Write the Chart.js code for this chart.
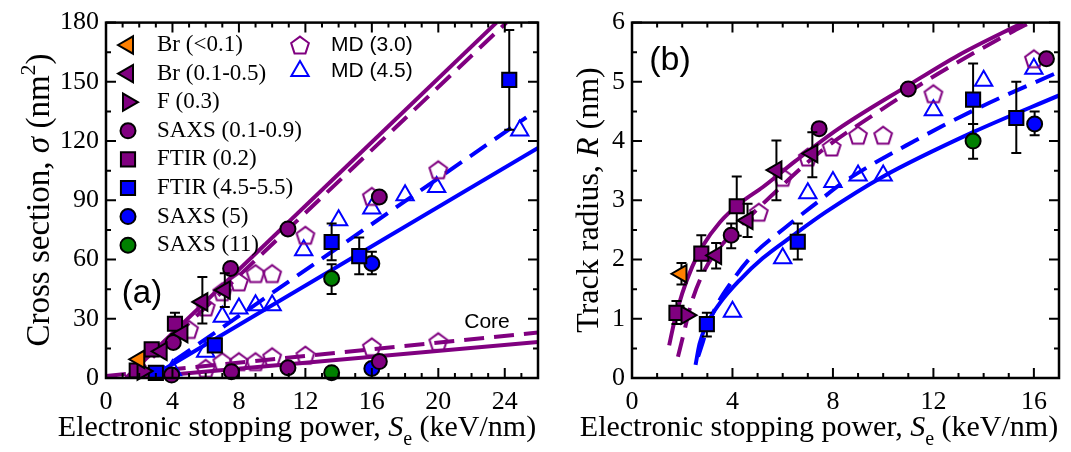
<!DOCTYPE html>
<html>
<head>
<meta charset="utf-8">
<script src="https://cdn.jsdelivr.net/npm/chart.js@4.4.0/dist/chart.umd.min.js"></script>
<style>
body { margin: 0; background: #fff; }
#wa { position: absolute; left: 0; top: 0; width: 560px; height: 452px; }
#wb { position: absolute; left: 560px; top: 0; width: 511px; height: 452px; }
</style>
</head>
<body>
<div id="wa"><canvas id="ca" width="560" height="452"></canvas></div>
<div id="wb"><canvas id="cb" width="511" height="452"></canvas></div>
<script>
// rows: [Se, value, errLow, errHigh]  (error limits optional)

// panel (a): cross section sigma (nm^2)
var aBrLow   = [[2.0, 9.5]];
var aBrMid   = [[3.35, 13.5], [4.6, 22.5], [5.8, 38.5, 27.6, 51.2], [7.15, 44.5, 36, 53]];
var aF       = [[2.2, 3.5]];
var aSaxsLow = [[4.05, 18], [7.5, 55.5], [10.95, 75.5], [16.45, 91.7, 89.6, 93.5],
                [3.95, 1.5, 0.4, 2.6], [7.55, 3.2, 2, 4.4], [10.95, 5.2, 4, 6.4], [16.45, 8.3, 7, 9.6]];
var aFtirLow = [[1.85, 3.8, 2.6, 5.2], [2.75, 14.5, 11.5, 17.5], [4.15, 27.5, 22, 33]];
var aFtirHi  = [[3.0, 2.6, 1.5, 3.8], [6.55, 16.5], [13.58, 68.9, 59.7, 78.2], [15.24, 61.7, 52.6, 71.1], [24.27, 151, 125.7, 176.3]];
var aSaxs5   = [[16.0, 58, 52.6, 63.9], [16.0, 4.8, 3.6, 6]];
var aSaxs11  = [[13.58, 50.4, 42.5, 57.6], [13.58, 2.7, 1.5, 3.9]];
var aMd30    = [[5, 24.6], [6, 36], [7, 43.7], [8, 48.7], [9, 52.9], [10, 52.9], [12, 72.3], [16, 92], [20, 105.5],
                [6, 4.9], [7, 8.3], [8, 8.3], [9, 8.3], [10, 10.8], [12, 11.6], [16, 15.8], [20, 18.4]];
var aMd45    = [[4, 3.9], [6, 13.3], [7, 31], [8, 35.2], [9, 36.9], [10, 36.9], [11.9, 64.7], [14, 79.9], [16, 85.8], [18, 92.5], [19.9, 96.7], [24.9, 125.4]];

var aFitPurple     = [[1.2, 0], [23.5, 180]];
var aFitPurpleDash = [[1.5, 0], [24.1, 180]];
var aFitBlue       = [[2.6, 0], [26, 116.5]];
var aFitBlueDash   = [[2.6, 0], [25.3, 132]];
var aCore          = [[1.7, 0], [26, 18.3]];
var aCoreDash      = [[0, 1], [26, 23]];

// panel (b): track radius R (nm)
var bBrLow   = [[1.97, 1.76, 1.58, 1.94]];
var bBrMid   = [[3.35, 2.07, 1.85, 2.28], [4.6, 2.66, 2.38, 2.94], [5.75, 3.51, 3.0, 4.01], [7.18, 3.79, 3.39, 4.15]];
var bF       = [[2.17, 1.06]];
var bSaxsLow = [[3.95, 2.41, 2.19, 2.61], [7.45, 4.21], [11.0, 4.88], [16.5, 5.39]];
var bFtirLow = [[1.77, 1.1, 0.91, 1.3], [2.76, 2.1, 1.81, 2.41], [4.17, 2.9, 2.4, 3.4]];
var bFtirHi  = [[2.98, 0.91, 0.7, 1.1], [6.6, 2.3, 2.0, 2.61], [13.58, 4.7, 4.29, 5.31], [15.3, 4.39, 3.8, 5.0]];
var bSaxs5   = [[16.03, 4.29, 4.1, 4.5]];
var bSaxs11  = [[13.58, 4.0, 3.7, 4.29]];
var bMd30    = [[5.05, 2.8], [6, 3.39], [7, 3.73], [7.95, 3.9], [9, 4.1], [10, 4.1], [12, 4.8], [16, 5.39]];
var bMd45    = [[4, 1.12], [6, 2.02], [7, 3.12], [8, 3.31], [9, 3.42], [10, 3.42], [12, 4.52], [14, 5.02], [16, 5.22]];

var bFitPurple     = [[1.48, 0.55], [1.7, 0.98], [2.0, 1.43], [2.4, 1.88], [2.8, 2.22], [3.5, 2.63], [4.3, 2.95], [5.2, 3.22],
                      [6.5, 3.66], [8.2, 4.2], [11.0, 4.94], [13.0, 5.45], [15.56, 6.0]];
var bFitPurpleDash = [[1.83, 0.36], [2.03, 0.7], [2.36, 1.26], [2.89, 1.82], [3.62, 2.27], [4.41, 2.61], [5.73, 3.15],
                      [7.5, 3.82], [9.82, 4.5], [10.61, 4.72], [12.2, 5.14], [15.2, 5.86], [15.85, 6.0]];
var bFitBlue       = [[2.53, 0.22], [2.69, 0.58], [2.98, 0.91], [3.49, 1.26], [4.28, 1.65], [5.2, 2.02], [6.39, 2.4],
                      [7.71, 2.8], [9.95, 3.39], [13.58, 4.15], [17, 4.77]];
var bFitBlueDash   = [[2.63, 0.36], [3.22, 1.09], [4.01, 1.65], [4.8, 2.07], [6.13, 2.55], [7.45, 2.99], [8.37, 3.29],
                      [11.28, 4.01], [13.9, 4.58], [17, 5.17]];

var PURPLE = '#800080', BLUE = '#0000ff', ORANGE = '#ff8000', GREEN = '#008000';
var SERIF = 'Liberation Serif', SANS = 'Liberation Sans';

function pentagon(color) {
  var c = document.createElement('canvas');
  c.width = 24; c.height = 24;
  var g = c.getContext('2d');
  g.strokeStyle = color; g.lineWidth = 2;
  g.beginPath();
  for (var k = 0; k < 5; k++) {
    var t = -Math.PI / 2 + k * 2 * Math.PI / 5;
    var px = 12 + 9.3 * Math.cos(t), py = 12.9 + 9.3 * Math.sin(t);
    if (k) g.lineTo(px, py); else g.moveTo(px, py);
  }
  g.closePath(); g.stroke();
  return c;
}
var pentPurple = pentagon(PURPLE);

function pts(arr) {
  return arr.map(function (p) { return { x: p[0], y: p[1], lo: p[2], hi: p[3] }; });
}

function marker(label, arr, style, fill, rot, r, leg) {
  return {
    label: label, data: pts(arr), showLine: false, clip: false, order: 1,
    pointStyle: style, pointRotation: rot, pointRadius: r, pointHoverRadius: r,
    pointBackgroundColor: fill, pointBorderColor: '#000', pointBorderWidth: 2, leg: leg
  };
}
function openMarker(label, arr, style, color, r, leg) {
  return {
    label: label, data: pts(arr), showLine: false, clip: false, order: 1,
    pointStyle: style, pointRotation: 0, pointRadius: r, pointHoverRadius: r,
    pointBackgroundColor: 'rgba(0,0,0,0)', pointBorderColor: color, pointBorderWidth: 2, leg: leg
  };
}
function fit(arr, color, dashed, curved) {
  return {
    data: pts(arr), showLine: true, order: 2, borderColor: color, borderWidth: 4,
    borderDash: dashed ? [20, 10] : [], pointRadius: 0, pointHoverRadius: 0, fill: false,
    cubicInterpolationMode: curved ? 'monotone' : 'default', tension: 0
  };
}

// error bars drawn just before each dataset's markers
var errorBars = {
  id: 'errorBars',
  beforeDatasetDraw: function (chart, args) {
    var ds = chart.data.datasets[args.index];
    var meta = args.meta, ys = chart.scales.y, ctx = chart.ctx;
    ctx.save();
    ctx.strokeStyle = '#000'; ctx.lineWidth = 2;
    ds.data.forEach(function (d, i) {
      if (d.lo == null) return;
      var x = meta.data[i].x;
      var y1 = ys.getPixelForValue(d.lo), y2 = ys.getPixelForValue(d.hi);
      ctx.beginPath();
      ctx.moveTo(x, y1); ctx.lineTo(x, y2);
      ctx.moveTo(x - 5, y1); ctx.lineTo(x + 5, y1);
      ctx.moveTo(x - 5, y2); ctx.lineTo(x + 5, y2);
      ctx.stroke();
    });
    ctx.restore();
  }
};

// box frame with inward ticks on all four sides
var frame = {
  id: 'frame',
  afterDatasetsDraw: function (chart, args, o) {
    var a = chart.chartArea, ctx = chart.ctx, xs = chart.scales.x, ys = chart.scales.y;
    ctx.save();
    ctx.strokeStyle = '#000'; ctx.lineWidth = 2;
    ctx.beginPath();
    var v, p, len;
    for (v = xs.min; v <= xs.max + 1e-9; v += o.xMinor) {
      p = xs.getPixelForValue(v);
      len = Math.abs(v / o.xMajor - Math.round(v / o.xMajor)) < 1e-6 ? 10 : 5;
      ctx.moveTo(p, a.bottom); ctx.lineTo(p, a.bottom - len);
      ctx.moveTo(p, a.top); ctx.lineTo(p, a.top + len);
    }
    for (v = ys.min; v <= ys.max + 1e-9; v += o.yMinor) {
      p = ys.getPixelForValue(v);
      len = Math.abs(v / o.yMajor - Math.round(v / o.yMajor)) < 1e-6 ? 10 : 5;
      ctx.moveTo(a.left, p); ctx.lineTo(a.left + len, p);
      ctx.moveTo(a.right, p); ctx.lineTo(a.right - len, p);
    }
    ctx.stroke();
    ctx.lineWidth = 2.5;
    ctx.strokeRect(a.left, a.top, a.right - a.left, a.bottom - a.top);
    ctx.restore();
  }
};

function rich(ctx, parts, x, y, rot) {
  ctx.save();
  ctx.translate(x, y);
  if (rot) ctx.rotate(rot);
  var w = 0;
  parts.forEach(function (p) { ctx.font = p[1]; w += ctx.measureText(p[0]).width; });
  var cx = -w / 2;
  ctx.textBaseline = 'alphabetic'; ctx.textAlign = 'left'; ctx.fillStyle = '#000';
  parts.forEach(function (p) {
    ctx.font = p[1];
    ctx.fillText(p[0], cx, p[2] || 0);
    cx += ctx.measureText(p[0]).width;
  });
  ctx.restore();
}

// axis titles, panel labels and the in-plot legend
var decor = {
  id: 'decor',
  afterDraw: function (chart, args, o) {
    var ctx = chart.ctx;
    rich(ctx, o.xTitle, o.xPos[0], o.xPos[1], 0);
    rich(ctx, o.yTitle, o.yPos[0], o.yPos[1], -Math.PI / 2);
    o.notes.forEach(function (n) {
      ctx.save();
      ctx.font = n[1]; ctx.fillStyle = '#000'; ctx.textAlign = 'center'; ctx.textBaseline = 'middle';
      ctx.fillText(n[0], n[2], n[3]);
      ctx.restore();
    });
    chart.data.datasets.forEach(function (ds) {
      if (!ds.leg) return;
      ctx.save();
      ctx.fillStyle = ds.pointBackgroundColor; ctx.strokeStyle = ds.pointBorderColor; ctx.lineWidth = ds.pointBorderWidth;
      Chart.helpers.drawPoint(ctx, {
        pointStyle: ds.pointStyle, rotation: ds.pointRotation || 0,
        radius: ds.pointRadius, borderWidth: ds.pointBorderWidth
      }, ds.leg[0], ds.leg[1]);
      ctx.font = ds.leg[3]; ctx.fillStyle = '#000'; ctx.textBaseline = 'middle'; ctx.textAlign = 'left';
      ctx.fillText(ds.label, ds.leg[2], ds.leg[1]);
      ctx.restore();
    });
  }
};

function xTitle() {
  return [['Electronic stopping power, ', '30px ' + SERIF],
          ['S', 'italic 30px ' + SERIF],
          ['e', '20px ' + SERIF, 9],
          [' (keV/nm)', '30px ' + SERIF]];
}

function options(cfg) {
  return {
    responsive: false, animation: false, events: [],
    layout: { padding: { left: 0, right: cfg.padRight, top: 22, bottom: 0 } },
    scales: {
      x: {
        type: 'linear', min: 0, max: cfg.xMax,
        grid: { display: false, drawTicks: false }, border: { display: false },
        ticks: { stepSize: 4, includeBounds: false, padding: 9, color: '#000', font: { family: SERIF, size: 26 } },
        afterFit: function (s) { s.height = 74; }
      },
      y: {
        type: 'linear', min: 0, max: cfg.yMax,
        grid: { display: false, drawTicks: false }, border: { display: false },
        ticks: { stepSize: cfg.yStep, includeBounds: false, padding: 7, color: '#000', font: { family: SERIF, size: 26 } },
        afterFit: function (s) { s.width = cfg.yWidth; }
      }
    },
    plugins: {
      legend: { display: false }, tooltip: { enabled: false },
      frame: { xMajor: 4, xMinor: 1, yMajor: cfg.yStep, yMinor: cfg.yStep / 2 },
      decor: cfg.decor
    }
  };
}

var legSerif = '23px ' + SERIF, legSans = '21px ' + SANS;
var RC = 7.5, RS = 10, RT = 10;

new Chart(document.getElementById('ca'), {
  type: 'scatter',
  data: {
    datasets: [
      marker('Br (<0.1)', aBrLow, 'triangle', ORANGE, -90, RT, [128, 45, 157, legSerif]),
      marker('Br (0.1-0.5)', aBrMid, 'triangle', PURPLE, -90, RT, [128, 73.6, 157, legSerif]),
      marker('F (0.3)', aF, 'triangle', PURPLE, 90, RT, [128, 102.2, 157, legSerif]),
      marker('SAXS (0.1-0.9)', aSaxsLow, 'circle', PURPLE, 0, RC, [128, 130.8, 157, legSerif]),
      marker('FTIR (0.2)', aFtirLow, 'rect', PURPLE, 0, RS, [128, 159.4, 157, legSerif]),
      marker('FTIR (4.5-5.5)', aFtirHi, 'rect', BLUE, 0, RS, [128, 188, 157, legSerif]),
      marker('SAXS (5)', aSaxs5, 'circle', BLUE, 0, RC, [128, 216.6, 157, legSerif]),
      marker('SAXS (11)', aSaxs11, 'circle', GREEN, 0, RC, [128, 245.2, 157, legSerif]),
      openMarker('MD (3.0)', aMd30, pentPurple, PURPLE, 9, [300, 45, 331, legSans]),
      openMarker('MD (4.5)', aMd45, 'triangle', BLUE, RT, [300, 71, 331, legSans]),
      fit(aFitPurple, PURPLE, false, false),
      fit(aFitPurpleDash, PURPLE, true, false),
      fit(aFitBlue, BLUE, false, false),
      fit(aFitBlueDash, BLUE, true, false),
      fit(aCore, PURPLE, false, false),
      fit(aCoreDash, PURPLE, true, false)
    ]
  },
  options: options({
    xMax: 26, yMax: 180, yStep: 30, yWidth: 106, padRight: 22,
    decor: {
      xTitle: xTitle(), xPos: [297, 436],
      yTitle: [['Cross section, ', '33px ' + SERIF], ['\u03c3', 'italic 33px ' + SERIF],
               [' (nm', '33px ' + SERIF], ['2', '22px ' + SERIF, -14], [')', '33px ' + SERIF]],
      yPos: [49, 200],
      notes: [['(a)', '33px ' + SANS, 142, 294], ['Core', '21px ' + SANS, 487, 322]]
    }
  }),
  plugins: [errorBars, frame, decor]
});

new Chart(document.getElementById('cb'), {
  type: 'scatter',
  data: {
    datasets: [
      marker('Br (<0.1)', bBrLow, 'triangle', ORANGE, -90, RT),
      marker('Br (0.1-0.5)', bBrMid, 'triangle', PURPLE, -90, RT),
      marker('F (0.3)', bF, 'triangle', PURPLE, 90, RT),
      marker('SAXS (0.1-0.9)', bSaxsLow, 'circle', PURPLE, 0, RC),
      marker('FTIR (0.2)', bFtirLow, 'rect', PURPLE, 0, RS),
      marker('FTIR (4.5-5.5)', bFtirHi, 'rect', BLUE, 0, RS),
      marker('SAXS (5)', bSaxs5, 'circle', BLUE, 0, RC),
      marker('SAXS (11)', bSaxs11, 'circle', GREEN, 0, RC),
      openMarker('MD (3.0)', bMd30, pentPurple, PURPLE, 9),
      openMarker('MD (4.5)', bMd45, 'triangle', BLUE, RT),
      fit(bFitPurple, PURPLE, false, true),
      fit(bFitPurpleDash, PURPLE, true, true),
      fit(bFitBlue, BLUE, false, true),
      fit(bFitBlueDash, BLUE, true, true)
    ]
  },
  options: options({
    xMax: 17, yMax: 6, yStep: 1, yWidth: 72, padRight: 9,
    decor: {
      xTitle: xTitle(), xPos: [259, 436],
      yTitle: [['Track radius, ', '32px ' + SERIF], ['R', 'italic 32px ' + SERIF], [' (nm)', '32px ' + SERIF]],
      yPos: [38, 200],
      notes: [['(b)', '34px ' + SANS, 110, 61]]
    }
  }),
  plugins: [errorBars, frame, decor]
});
</script>
</body>
</html>
